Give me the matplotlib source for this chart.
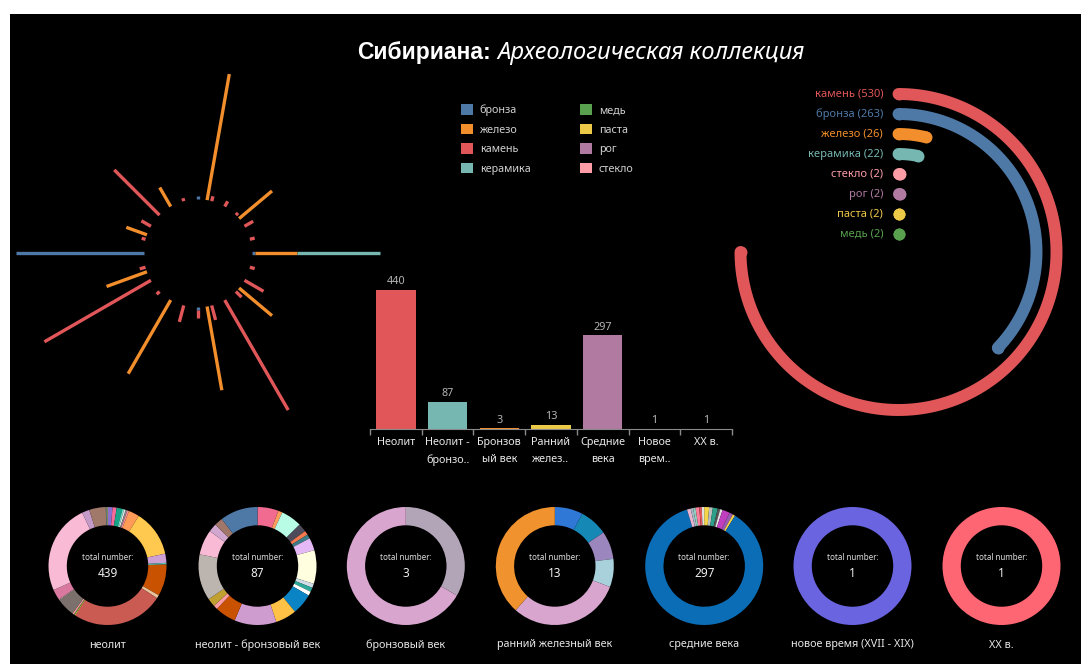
import numpy as np
import matplotlib
matplotlib.use("Agg")
import matplotlib.pyplot as plt
from matplotlib.patches import Patch, Rectangle

plt.rcParams['font.family'] = ['Noto Sans', 'DejaVu Sans']

W, H = 1081, 664

# --- данные -------------------------------------------------------------
materials = ['бронза', 'железо', 'камень', 'керамика', 'медь', 'паста', 'рог', 'стекло']
material_colors = ['#4E79A7', '#F28E2B', '#E15759', '#76B7B2', '#59A14F', '#EDC948', '#B07AA1', '#FF9DA7']
mat_color = dict(zip(materials, material_colors))

# лучи (угол, материал, длина)
burst_angle = [0, 10, 15, 30, 45, 50, 60, 75, 90, 90, 90, 105, 120, 130, 135, 150, 165,
               170, 180, 180, 195, 210, 225, 240, 250, 255, 270, 285, 290, 300, 315, 330, 345]
burst_material = ['бронза', 'железо', 'камень', 'камень', 'камень', 'железо', 'камень', 'камень',
                  'бронза', 'железо', 'керамика', 'камень', 'камень', 'железо', 'камень', 'камень',
                  'камень', 'железо', 'бронза', 'камень', 'камень', 'железо', 'камень', 'камень',
                  'железо', 'камень', 'бронза', 'камень', 'железо', 'камень', 'камень', 'железо', 'камень']
burst_len = [3, 128, 5, 6, 3, 43, 10, 5, 3, 42, 83, 5, 22, 43, 8, 127, 15,
             85, 3, 8, 17, 85, 4, 123, 43, 6, 128, 4, 22, 11, 64, 22, 3]

# радиальные дуги
arc_names = ['камень', 'бронза', 'железо', 'керамика', 'стекло', 'рог', 'паста', 'медь']
arc_counts = [530, 263, 26, 22, 2, 2, 2, 2]

# столбцы по периодам
period_labels = ['Неолит', 'Неолит -\nбронзо..', 'Бронзов\nый век', 'Ранний\nжелез..',
                 'Средние\nвека', 'Новое\nврем..', 'XX в.']
period_counts = [440, 87, 3, 13, 297, 1, 1]
period_colors = ['#E15759', '#76B7B2', '#F28E2B', '#EDC948', '#B07AA1', '#FF9DA7', '#59A14F']

# кольцевые диаграммы
donut_titles = ['неолит', 'неолит - бронзовый век', 'бронзовый век', 'ранний железный век',
                'средние века', 'новое время (XVII - XIX)', 'XX в.']
donut_totals = [439, 87, 3, 13, 297, 1, 1]

neo_vals = [6, 5, 7, 2, 2, 2, 2, 13, 56, 11, 2, 38, 4, 110, 1, 1, 2, 22, 1, 13, 108, 9, 20, 1, 1]
neo_cols = ['#8B6FD1', '#F36B9A', '#17A589', '#76E0CC', '#E8E8E8', '#8A8A8A', '#FF8FA0', '#FF9B57',
            '#FFC94F', '#CFA0D5', '#57C5B6', '#C85200', '#E8C29A', '#C95B53', '#F1D44A', '#59A14F',
            '#FF9DA7', '#7B706C', '#BAB0AC', '#D9799F', '#F8BAD4', '#C49AC9', '#A0796A', '#4E79A7',
            '#C7D44A']
neobr_vals = [5, 1, 5, 2, 1, 1, 3, 8, 1, 1, 1, 5, 5, 10, 5, 1, 2, 11, 6, 2, 2, 9]
neobr_cols = ['#F06B8F', '#FF9D5C', '#B8FCE6', '#4D4A5A', '#F5794F', '#3D7D8A', '#E5B9F5', '#FFFFE0',
              '#D0DDE6', '#2BA89A', '#FFFFFF', '#0B84C6', '#FFC247', '#CF9CCF', '#C85200', '#FF9DA7',
              '#C1A032', '#BCB4AE', '#F8BAD4', '#D1A7CF', '#A1776A', '#4E79A7']
bronze_vals = [1, 2]
bronze_cols = ['#B3A5B8', '#D7A5CE']
iron_vals = [1, 1, 1, 1, 4, 5]
iron_cols = ['#2F78D6', '#1588B5', '#9B87BD', '#A9D1DC', '#D7A5CE', '#F0932F']
middle_vals = [4, 3, 4, 2, 2, 6, 3, 2, 257, 3, 2, 2, 3, 2, 2]
middle_cols = ['#F5D547', '#BDBDBD', '#2CA089', '#555555', '#E0E0E0', '#C03FBF', '#9B59B6', '#F2D24B',
               '#0B6DB6', '#E8B4D0', '#A6B8C7', '#8FCFC0', '#FF7F9C', '#E15759', '#E0E0E0']
new_vals = [1]
new_cols = ['#6A64E0']
xx_vals = [1]
xx_cols = ['#FF6673']

donut_vals = [neo_vals, neobr_vals, bronze_vals, iron_vals, middle_vals, new_vals, xx_vals]
donut_cols = [neo_cols, neobr_cols, bronze_cols, iron_cols, middle_cols, new_cols, xx_cols]


def px_axes(cx, cy, w, h, **kw):
    # оси по пиксельным координатам (y сверху вниз)
    return fig.add_axes([(cx - w / 2) / W, 1 - (cy + h / 2) / H, w / W, h / H], **kw)


def ftext(x, y, s, **kw):
    fig.text(x / W, 1 - y / H, s, **kw)


fig = plt.figure(figsize=(W / 100, H / 100), dpi=100, facecolor='white')
fig.patches.append(Rectangle((10 / W, 0), 1 - 10 / W, 1 - 14 / H, transform=fig.transFigure,
                             facecolor='black', edgecolor='none', zorder=-10))

# заголовок
ftext(491, 53, 'Сибириана:', ha='right', va='center', fontsize=16.5, fontweight='bold',
      color='white', family=['Liberation Sans', 'DejaVu Sans'])
ftext(497, 53, 'Археологическая коллекция', ha='left', va='center', fontsize=17,
      fontstyle='italic', color='white')

# --- лучевая диаграмма --------------------------------------------------
inner = 54
axb = px_axes(197.7, 253.3, 380, 380, projection='polar')
axb.set_theta_zero_location('N')
axb.set_theta_direction(-1)
stack = {}
for ang, mat, ln in zip(burst_angle, burst_material, burst_len):
    r0 = stack.get(ang, inner)
    th = np.deg2rad(ang)
    axb.plot([th, th], [r0, r0 + ln], color=mat_color[mat], lw=2.4, solid_capstyle='butt')
    stack[ang] = r0 + ln
axb.set_ylim(0, 190)
axb.axis('off')

# --- радиальные дуги ----------------------------------------------------
axr = px_axes(898.5, 252, 340, 340, projection='polar')
axr.set_theta_zero_location('N')
axr.set_theta_direction(-1)
for i, (name, cnt) in enumerate(zip(arc_names, arc_counts)):
    r = 158 - 20 * i
    th = np.deg2rad(np.linspace(0, cnt / max(arc_counts) * 270, 300))
    rr = np.full_like(th, r)
    axr.plot(th, rr, color=mat_color[name], lw=8.6, solid_capstyle='round')
    axr.plot(th[[0, -1]], rr[[0, -1]], 'o', color=mat_color[name], ms=8.6, mew=0)
    axr.annotate(f'{name} ({cnt})', xy=(0, r), xytext=(-11, 0), textcoords='offset points',
                 ha='right', va='center', fontsize=8, color=mat_color[name])
axr.set_ylim(0, 170)
axr.axis('off')

# --- столбчатая диаграмма -----------------------------------------------
axc = fig.add_axes([370 / W, 1 - 429 / H, (732 - 370) / W, (429 - 270) / H])
axc.set_facecolor('none')
x = np.arange(len(period_counts))
axc.bar(x, period_counts, width=0.76, color=period_colors)
for xi, v in zip(x, period_counts):
    axc.text(xi, v + 8, str(v), ha='center', va='bottom', fontsize=7.8, color='#b5b5b5')
axc.set_xlim(-0.5, len(x) - 0.5)
axc.set_ylim(0, (429 - 270) / 0.316)
axc.set_xticks(x)
axc.set_xticklabels(period_labels, fontsize=7.8, color='#e8e8e8', linespacing=1.7, va='top')
axc.set_xticks(np.arange(-0.5, len(x), 1), minor=True)
axc.tick_params(axis='x', which='major', length=0, pad=6)
axc.tick_params(axis='x', which='minor', length=4, color='#8a8a8a', width=1)
axc.set_yticks([])
for s in ['top', 'right', 'left']:
    axc.spines[s].set_visible(False)
axc.spines['bottom'].set_color('#8a8a8a')

handles = [Patch(facecolor=c, edgecolor='none', label=m) for m, c in zip(materials, material_colors)]
fig.legend(handles=handles, ncol=2, loc='upper left', bbox_to_anchor=(456 / W, 1 - 99 / H),
           frameon=False, fontsize=7.8, labelcolor='#d0d0d0', handlelength=1.1, handleheight=1.1,
           handletextpad=0.6, labelspacing=0.7, columnspacing=4.6, borderpad=0)

# --- кольца -------------------------------------------------------------
donut_x = [107.5, 257.5, 405.8, 554.8, 704.2, 852.5, 1001.5]
donut_y = 566
for cx, vals, cols, total, title in zip(donut_x, donut_vals, donut_cols, donut_totals, donut_titles):
    ax = px_axes(cx, donut_y, 118, 118)
    ax.pie(vals, colors=cols, startangle=90, counterclock=False, radius=1,
           wedgeprops=dict(width=0.31, linewidth=0))
    ax.set_xlim(-1, 1)
    ax.set_ylim(-1, 1)
    ax.set_aspect('equal')
    ax.axis('off')
    ftext(cx, donut_y - 9, 'total number:', ha='center', va='center', fontsize=5.8, color='#dddddd')
    ftext(cx, donut_y + 7.5, str(total), ha='center', va='center', fontsize=8.5, color='#eeeeee')
    ftext(cx, 645, title, ha='center', va='center', fontsize=7.8, color='#e6e6e6')

fig.savefig('out.png', dpi=100, facecolor=fig.get_facecolor())
